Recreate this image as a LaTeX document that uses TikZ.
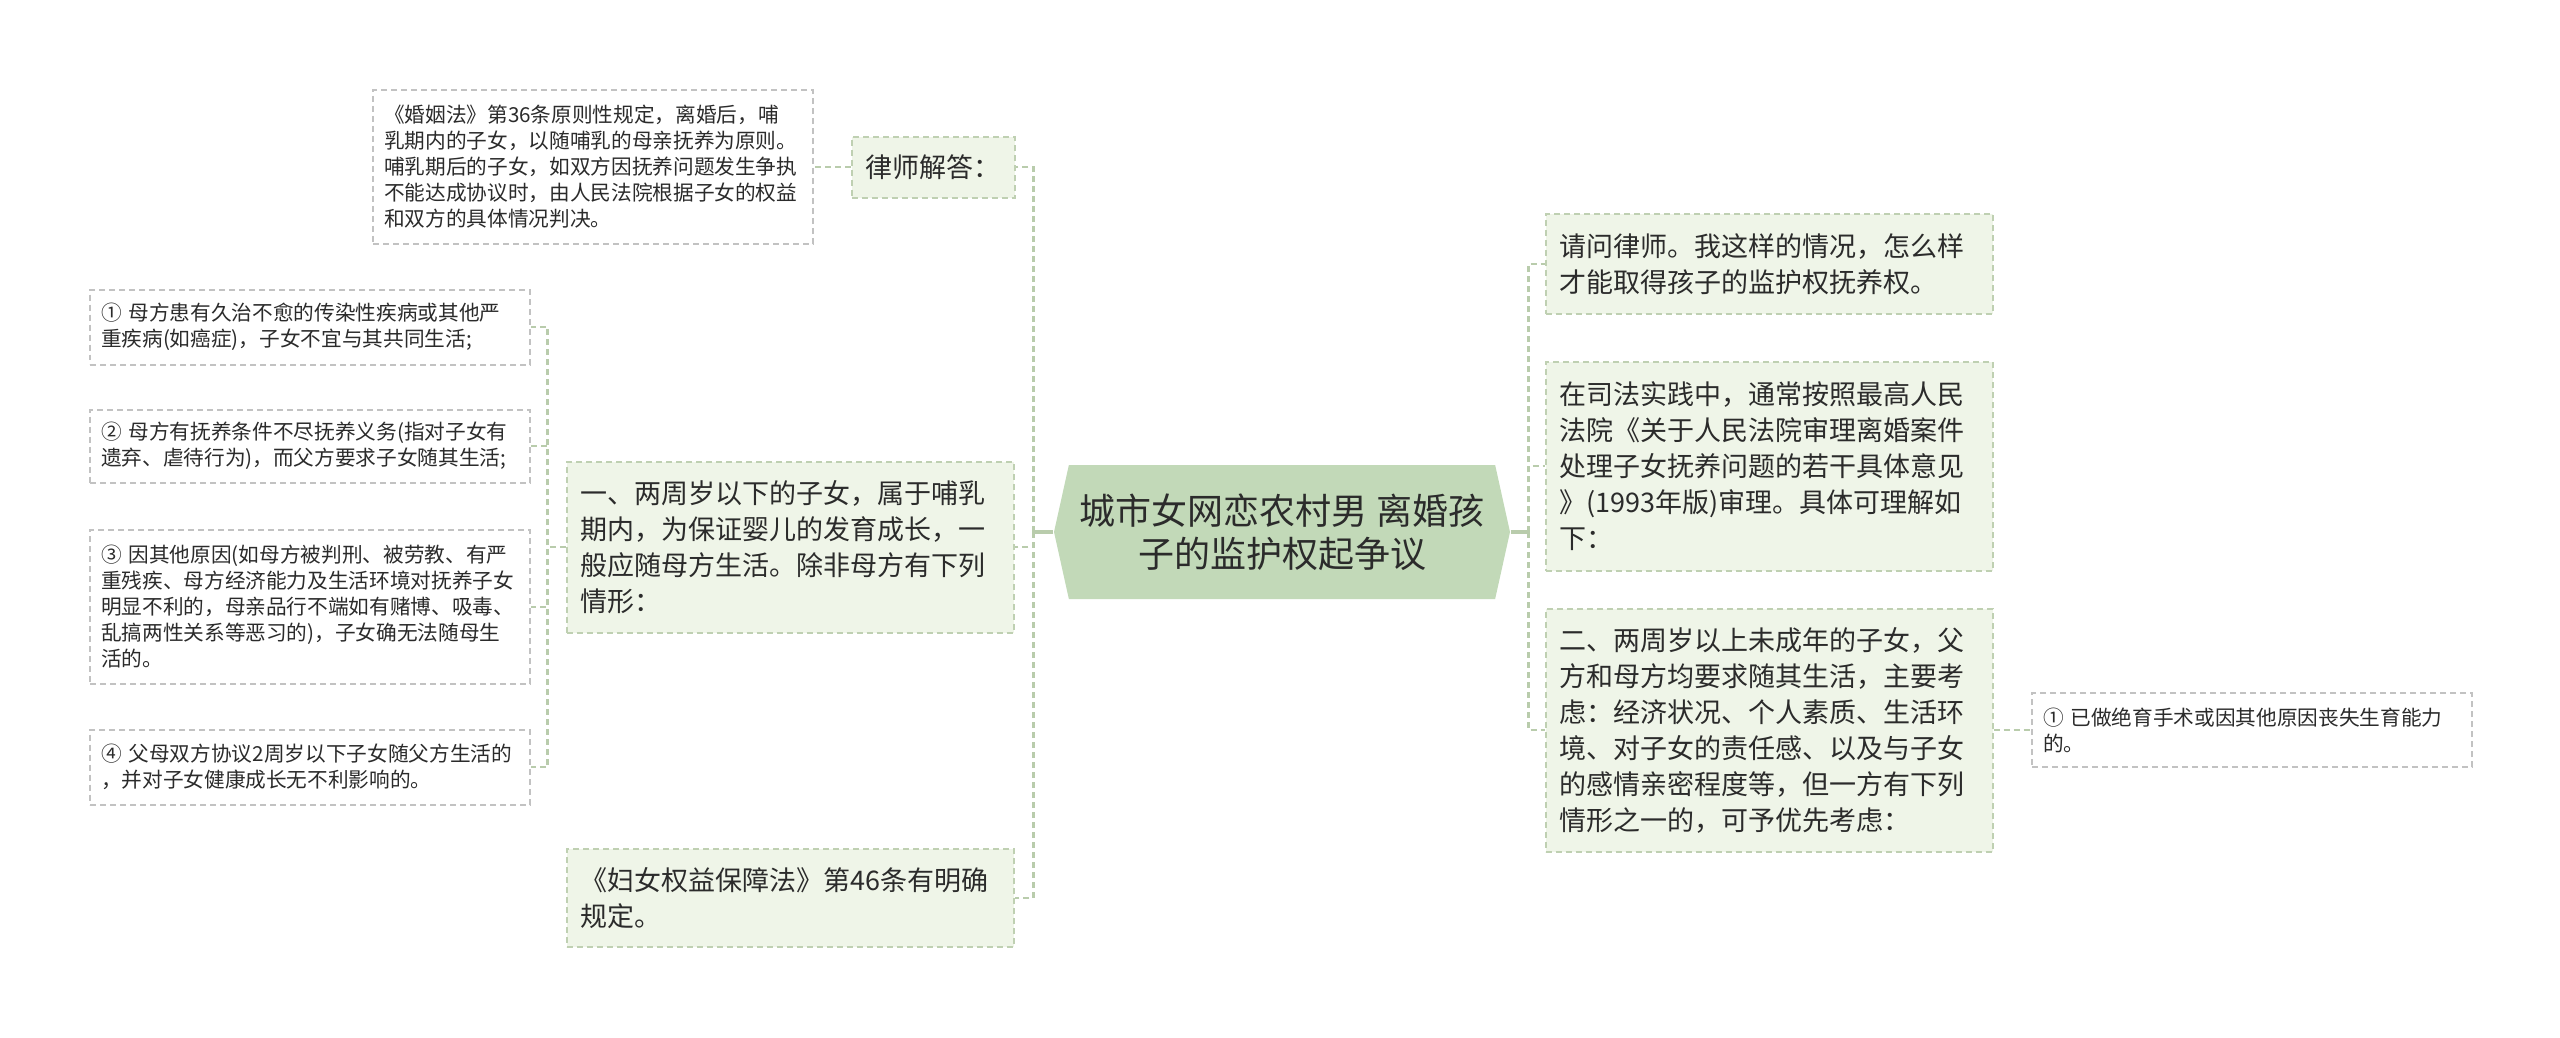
\documentclass[tikz,border=0pt]{standalone}
\usepackage{fontspec}
\newfontfamily\cjk{Noto Sans CJK SC}
\usepackage{tikz}
\usetikzlibrary{shapes.symbols}

\definecolor{topicfill}{HTML}{EFF5E8}
\definecolor{topicline}{HTML}{BFD0B2}
\definecolor{leafline}{HTML}{C2C2C2}
\definecolor{rootfill}{HTML}{C2D9B8}
\definecolor{linkcol}{HTML}{B9CCAC}
\definecolor{ink}{HTML}{2B2B2B}

\begin{document}
\begin{tikzpicture}
    [
      x=0.3pt, y=-0.3pt,
      box/.style={draw, line width=0.6pt, dash pattern=on 1.8pt off 1.2pt, align=left, text=ink, inner ysep=0pt},
      leaf/.style={box, draw=leafline, fill=white, text width=125.4pt, inner xsep=3.3pt, font=\cjk\fontsize{6.2}{7.8}\selectfont},
      topic/.style={box, draw=topicline, fill=topicfill, text width=125.7pt, inner xsep=4.2pt, font=\cjk\fontsize{8.1}{10.8}\selectfont},
      central/.style={shape=signal, signal to=west and east, signal pointer angle=155, fill=rootfill, minimum width=136.5pt, minimum height=40.2pt, align=center, text=ink, font=\cjk\fontsize{10.8}{13}\selectfont},
      link/.style={draw=linkcol, line width=0.75pt, dash pattern=on 1.8pt off 1.2pt},
      stub/.style={draw=linkcol, line width=1pt},
    ]
    \useasboundingbox (0,0) rectangle (2560,1038);

    \node (root) [central] at (1282,532) {城市女网恋农村男 离婚孩\\子的监护权起争议};

    % left side
    \node (lawyer) [topic, text width=40.5pt, minimum height=18.3pt] at (933,167) {律师解答：};
    \node (law-note) [leaf, minimum height=46.2pt] at (593,167) {《婚姻法》第36条原则性规定，离婚后，哺\\乳期内的子女，以随哺乳的母亲抚养为原则。\\哺乳期后的子女，如双方因抚养问题发生争执\\不能达成协议时，由人民法院根据子女的权益\\和双方的具体情况判决。};

    \node (under-two) [topic, minimum height=51.3pt] at (790,547) {一、两周岁以下的子女，属于哺乳\\期内，为保证婴儿的发育成长，一\\般应随母方生活。除非母方有下列\\情形：};
    \node (case-1) [leaf, minimum height=22.5pt] at (310,327) {① 母方患有久治不愈的传染性疾病或其他严\\重疾病(如癌症)，子女不宜与其共同生活;};
    \node (case-2) [leaf, minimum height=21.9pt] at (310,446) {② 母方有抚养条件不尽抚养义务(指对子女有\\遗弃、虐待行为)，而父方要求子女随其生活;};
    \node (case-3) [leaf, minimum height=46.2pt] at (310,607) {③ 因其他原因(如母方被判刑、被劳教、有严\\重残疾、母方经济能力及生活环境对抚养子女\\明显不利的，母亲品行不端如有赌博、吸毒、\\乱搞两性关系等恶习的)，子女确无法随母生\\活的。};
    \node (case-4) [leaf, minimum height=22.5pt] at (310,767) {④ 父母双方协议2周岁以下子女随父方生活的\\，并对子女健康成长无不利影响的。};

    \node (women-law) [topic, minimum height=29.4pt] at (790,898) {《妇女权益保障法》第46条有明确\\规定。};

    % right side
    \node (ask) [topic, minimum height=30pt] at (1769,264) {请问律师。我这样的情况，怎么样\\才能取得孩子的监护权抚养权。};
    \node (practice) [topic, minimum height=62.7pt] at (1769,466) {在司法实践中，通常按照最高人民\\法院《关于人民法院审理离婚案件\\处理子女抚养问题的若干具体意见\\》(1993年版)审理。具体可理解如\\下：};
    \node (over-two) [topic, minimum height=72.9pt] at (1769,730) {二、两周岁以上未成年的子女，父\\方和母方均要求随其生活，主要考\\虑：经济状况、个人素质、生活环\\境、对子女的责任感、以及与子女\\的感情亲密程度等，但一方有下列\\情形之一的，可予优先考虑：};
    \node (right-1) [leaf, minimum height=22.2pt] at (2252,730) {① 已做绝育手术或因其他原因丧失生育能力\\的。};

    \draw [stub] (root.west) -- ++(-20,0) coordinate (left-bus);
    \draw [stub] (root.east) -- ++(18,0) coordinate (right-bus);

    \path
    (left-bus) edge [link, to path={|- (\tikztotarget)}] (lawyer.east)
    (left-bus) edge [link, to path={|- (\tikztotarget)}] (under-two.east)
    (left-bus) edge [link, to path={|- (\tikztotarget)}] (women-law.east)
    (lawyer.west) edge [link] (law-note.east)

    (under-two.west) edge [link, to path={-- ++(-18,0) |- (\tikztotarget)}] (case-1.east)
    (under-two.west) edge [link, to path={-- ++(-18,0) |- (\tikztotarget)}] (case-2.east)
    (under-two.west) edge [link, to path={-- ++(-18,0) |- (\tikztotarget)}] (case-3.east)
    (under-two.west) edge [link, to path={-- ++(-18,0) |- (\tikztotarget)}] (case-4.east)

    (right-bus) edge [link, to path={|- (\tikztotarget)}] (ask.west)
    (right-bus) edge [link, to path={|- (\tikztotarget)}] (practice.west)
    (right-bus) edge [link, to path={|- (\tikztotarget)}] (over-two.west)
    (over-two.east) edge [link] (right-1.west)
    ;

\end{tikzpicture}
\end{document}
